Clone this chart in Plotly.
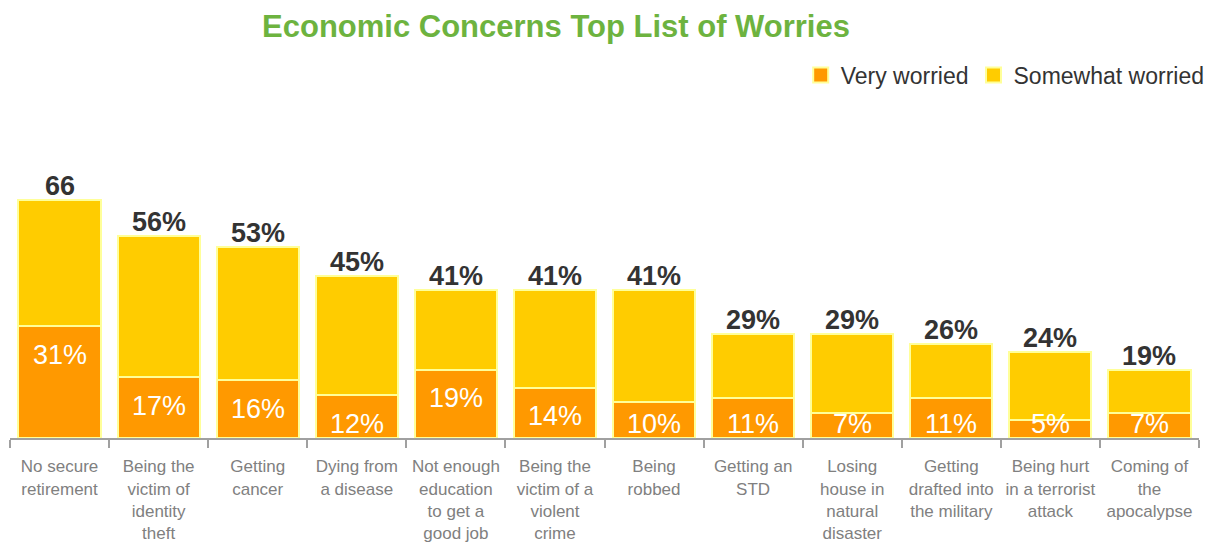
import plotly.graph_objects as go

categories = [
    "No secure<br>retirement",
    "Being the<br>victim of<br>identity<br>theft",
    "Getting<br>cancer",
    "Dying from<br>a disease",
    "Not enough<br>education<br>to get a<br>good job",
    "Being the<br>victim of a<br>violent<br>crime",
    "Being<br>robbed",
    "Getting an<br>STD",
    "Losing<br>house in<br>natural<br>disaster",
    "Getting<br>drafted into<br>the military",
    "Being hurt<br>in a terrorist<br>attack",
    "Coming of<br>the<br>apocalypse",
]
very_worried = [31, 17, 16, 12, 19, 14, 10, 11, 7, 11, 5, 7]
total_worried = [66, 56, 53, 45, 41, 41, 41, 29, 29, 26, 24, 19]
total_labels = ["66", "56%", "53%", "45%", "41%", "41%", "41%", "29%", "29%", "26%", "24%", "19%"]
somewhat_worried = [t - v for t, v in zip(total_worried, very_worried)]
series_names = ["Very worried", "Somewhat worried"]

ORANGE = "#FF9900"
YELLOW = "#FFCC00"
EDGE = "#FFFF99"
FONT = "Liberation Sans, Arial, sans-serif"

# the page adds an 8px body margin, so the figure is 8px smaller each way
W, H = 1212, 540
ML, MR, MT, MB = 2, 21, 102, 110
PLOT_H = H - MT - MB

fig = go.Figure()
for name, vals, col in zip(series_names, [very_worried, somewhat_worried], [ORANGE, YELLOW]):
    fig.add_trace(go.Bar(
        x=categories, y=vals, name=name, showlegend=False,
        marker=dict(color=col, line=dict(color=EDGE, width=2)),
        hoverinfo="skip",
    ))
# legend swatches (bigger squares like the reference)
for name, col in zip(series_names, [ORANGE, YELLOW]):
    fig.add_trace(go.Scatter(
        x=[None], y=[None], mode="markers", name=name,
        marker=dict(symbol="square", size=15, color=col, line=dict(color=EDGE, width=2)),
        hoverinfo="skip",
    ))

annotations = []
for c, t, lab in zip(categories, total_worried, total_labels):
    annotations.append(dict(
        x=c, y=t, text=f"<b>{lab}</b>", showarrow=False, xref="x", yref="y",
        yanchor="bottom", yshift=-3,
        font=dict(family=FONT, size=27, color="#333333"),
    ))
for c, v in zip(categories, very_worried):
    annotations.append(dict(
        x=c, y=max(v - 8, 4), text=f"{v}%", showarrow=False, xref="x", yref="y",
        yanchor="middle",
        font=dict(family=FONT, size=27, color="white"),
    ))

fig.update_layout(
    barmode="stack",
    bargap=0.17,
    width=W, height=H,
    margin=dict(l=ML, r=MR, t=MT, b=MB, autoexpand=False),
    paper_bgcolor="white", plot_bgcolor="white",
    font=dict(family=FONT),
    title=dict(
        text="<b>Economic Concerns Top List of Worries</b>",
        x=548 / W, xanchor="center", xref="container",
        y=1 - 18 / H, yanchor="middle", yref="container",
        font=dict(family=FONT, size=31, color="#6DB33F"),
    ),
    legend=dict(
        orientation="h", x=1.009, xanchor="right", y=1 + 35 / PLOT_H, yanchor="middle",
        font=dict(family=FONT, size=23, color="#333333"),
        traceorder="normal", itemwidth=30, tracegroupgap=0, itemsizing="trace",
        bgcolor="rgba(0,0,0,0)",
    ),
    annotations=annotations,
    showlegend=True,
)
fig.update_xaxes(
    showline=True, linecolor="#A0A0A0", linewidth=2,
    ticks="outside", tickson="boundaries", ticklen=8, tickcolor="#A0A0A0", tickwidth=2,
    tickangle=0, automargin=False, ticklabelstandoff=12,
    tickfont=dict(family=FONT, size=17, color="#808080"),
    showgrid=False, fixedrange=True,
)
fig.update_yaxes(
    range=[0, PLOT_H / 3.6], visible=False, showgrid=False, zeroline=False, fixedrange=True,
)

fig.write_html("out.html")
